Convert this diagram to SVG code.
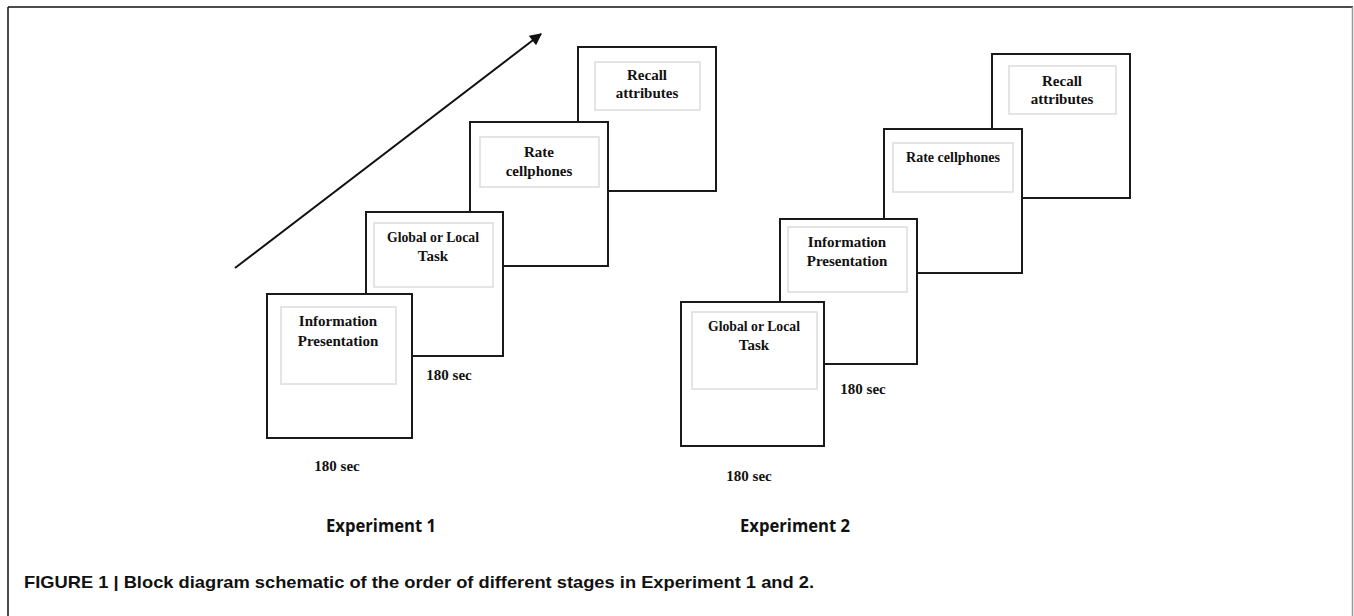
<svg xmlns="http://www.w3.org/2000/svg" width="1354" height="616" viewBox="0 0 1354 616">
<defs>
<style>
.box{fill:#fff;stroke:#1a1a1a;stroke-width:2}
.inner{fill:#fff;stroke:#dcdcdc;stroke-width:1.5}
.t{font-family:"Liberation Serif","Times New Roman",serif;font-weight:bold;font-size:15px;fill:#111;text-anchor:middle}
.sec{font-family:"Liberation Serif","Times New Roman",serif;font-weight:bold;font-size:15px;fill:#111;text-anchor:middle}
.exp{font-family:"Open Sans","DejaVu Sans",sans-serif;font-weight:700;font-size:17px;fill:#111}
.cap{font-family:"Liberation Sans",Arial,sans-serif;font-weight:bold;font-size:17px;fill:#111}
</style>
<marker id="ah" viewBox="0 0 10 10" refX="9" refY="5" markerWidth="8.5" markerHeight="6" markerUnits="strokeWidth" orient="auto">
<path d="M0,0 L10,5 L0,10 z" fill="#111"/>
</marker>
</defs>
<rect x="0" y="0" width="1354" height="616" fill="#fff"/>
<g id="frame">
<line x1="8" y1="7" x2="1353" y2="7" stroke="#111" stroke-width="1.5"/>
<line x1="8" y1="7" x2="8" y2="616" stroke="#111" stroke-width="1.5"/>
<line x1="1352.5" y1="7" x2="1352.5" y2="616" stroke="#999" stroke-width="1.5"/>
</g>
<g id="connectors">
<line x1="235" y1="268" x2="541" y2="34" stroke="#111" stroke-width="2" marker-end="url(#ah)"/>
</g>
<g id="exp1-recall">
<rect class="box" x="578" y="47" width="138" height="144"/>
<rect class="inner" x="595" y="62" width="105" height="48"/>
<text class="t" x="647" y="80">Recall</text>
<text class="t" x="647" y="98">attributes</text>
</g>
<g id="exp1-rate">
<rect class="box" x="470" y="122" width="138" height="144"/>
<rect class="inner" x="480" y="137" width="119" height="50"/>
<text class="t" x="539" y="157">Rate</text>
<text class="t" x="539" y="176">cellphones</text>
</g>
<g id="exp1-global">
<rect class="box" x="366" y="212" width="137" height="144"/>
<rect class="inner" x="374" y="223" width="119" height="64"/>
<text class="t" x="433" y="242" textLength="92" lengthAdjust="spacingAndGlyphs">Global or Local</text>
<text class="t" x="433" y="261">Task</text>
</g>
<g id="exp1-info">
<rect class="box" x="267" y="294" width="145" height="144"/>
<rect class="inner" x="281" y="307" width="115" height="77"/>
<text class="t" x="338" y="326">Information</text>
<text class="t" x="338" y="346">Presentation</text>
</g>
<g id="exp1-labels">
<text class="sec" x="449" y="380">180 sec</text>
<text class="sec" x="337" y="471">180 sec</text>
<text class="exp" x="326" y="532" textLength="110" lengthAdjust="spacingAndGlyphs">Experiment 1</text>
</g>
<g id="exp2-recall">
<rect class="box" x="992" y="54" width="138" height="144"/>
<rect class="inner" x="1009" y="66" width="107" height="48"/>
<text class="t" x="1062" y="86">Recall</text>
<text class="t" x="1062" y="104">attributes</text>
</g>
<g id="exp2-rate">
<rect class="box" x="884" y="129" width="138" height="144"/>
<rect class="inner" x="893" y="143" width="120" height="49"/>
<text class="t" x="953" y="162" textLength="94" lengthAdjust="spacingAndGlyphs">Rate cellphones</text>
</g>
<g id="exp2-info">
<rect class="box" x="780" y="219" width="137" height="145"/>
<rect class="inner" x="788" y="227" width="119" height="65"/>
<text class="t" x="847" y="247">Information</text>
<text class="t" x="847" y="266">Presentation</text>
</g>
<g id="exp2-global">
<rect class="box" x="681" y="302" width="143" height="144"/>
<rect class="inner" x="692" y="312" width="125" height="77"/>
<text class="t" x="754" y="331" textLength="92" lengthAdjust="spacingAndGlyphs">Global or Local</text>
<text class="t" x="754" y="350">Task</text>
</g>
<g id="exp2-labels">
<text class="sec" x="863" y="394">180 sec</text>
<text class="sec" x="749" y="481">180 sec</text>
<text class="exp" x="740" y="532" textLength="110" lengthAdjust="spacingAndGlyphs">Experiment 2</text>
</g>
<g id="caption">
<text class="cap" x="24" y="588" textLength="790" lengthAdjust="spacingAndGlyphs">FIGURE 1 | Block diagram schematic of the order of different stages in Experiment 1 and 2.</text>
</g>
</svg>
